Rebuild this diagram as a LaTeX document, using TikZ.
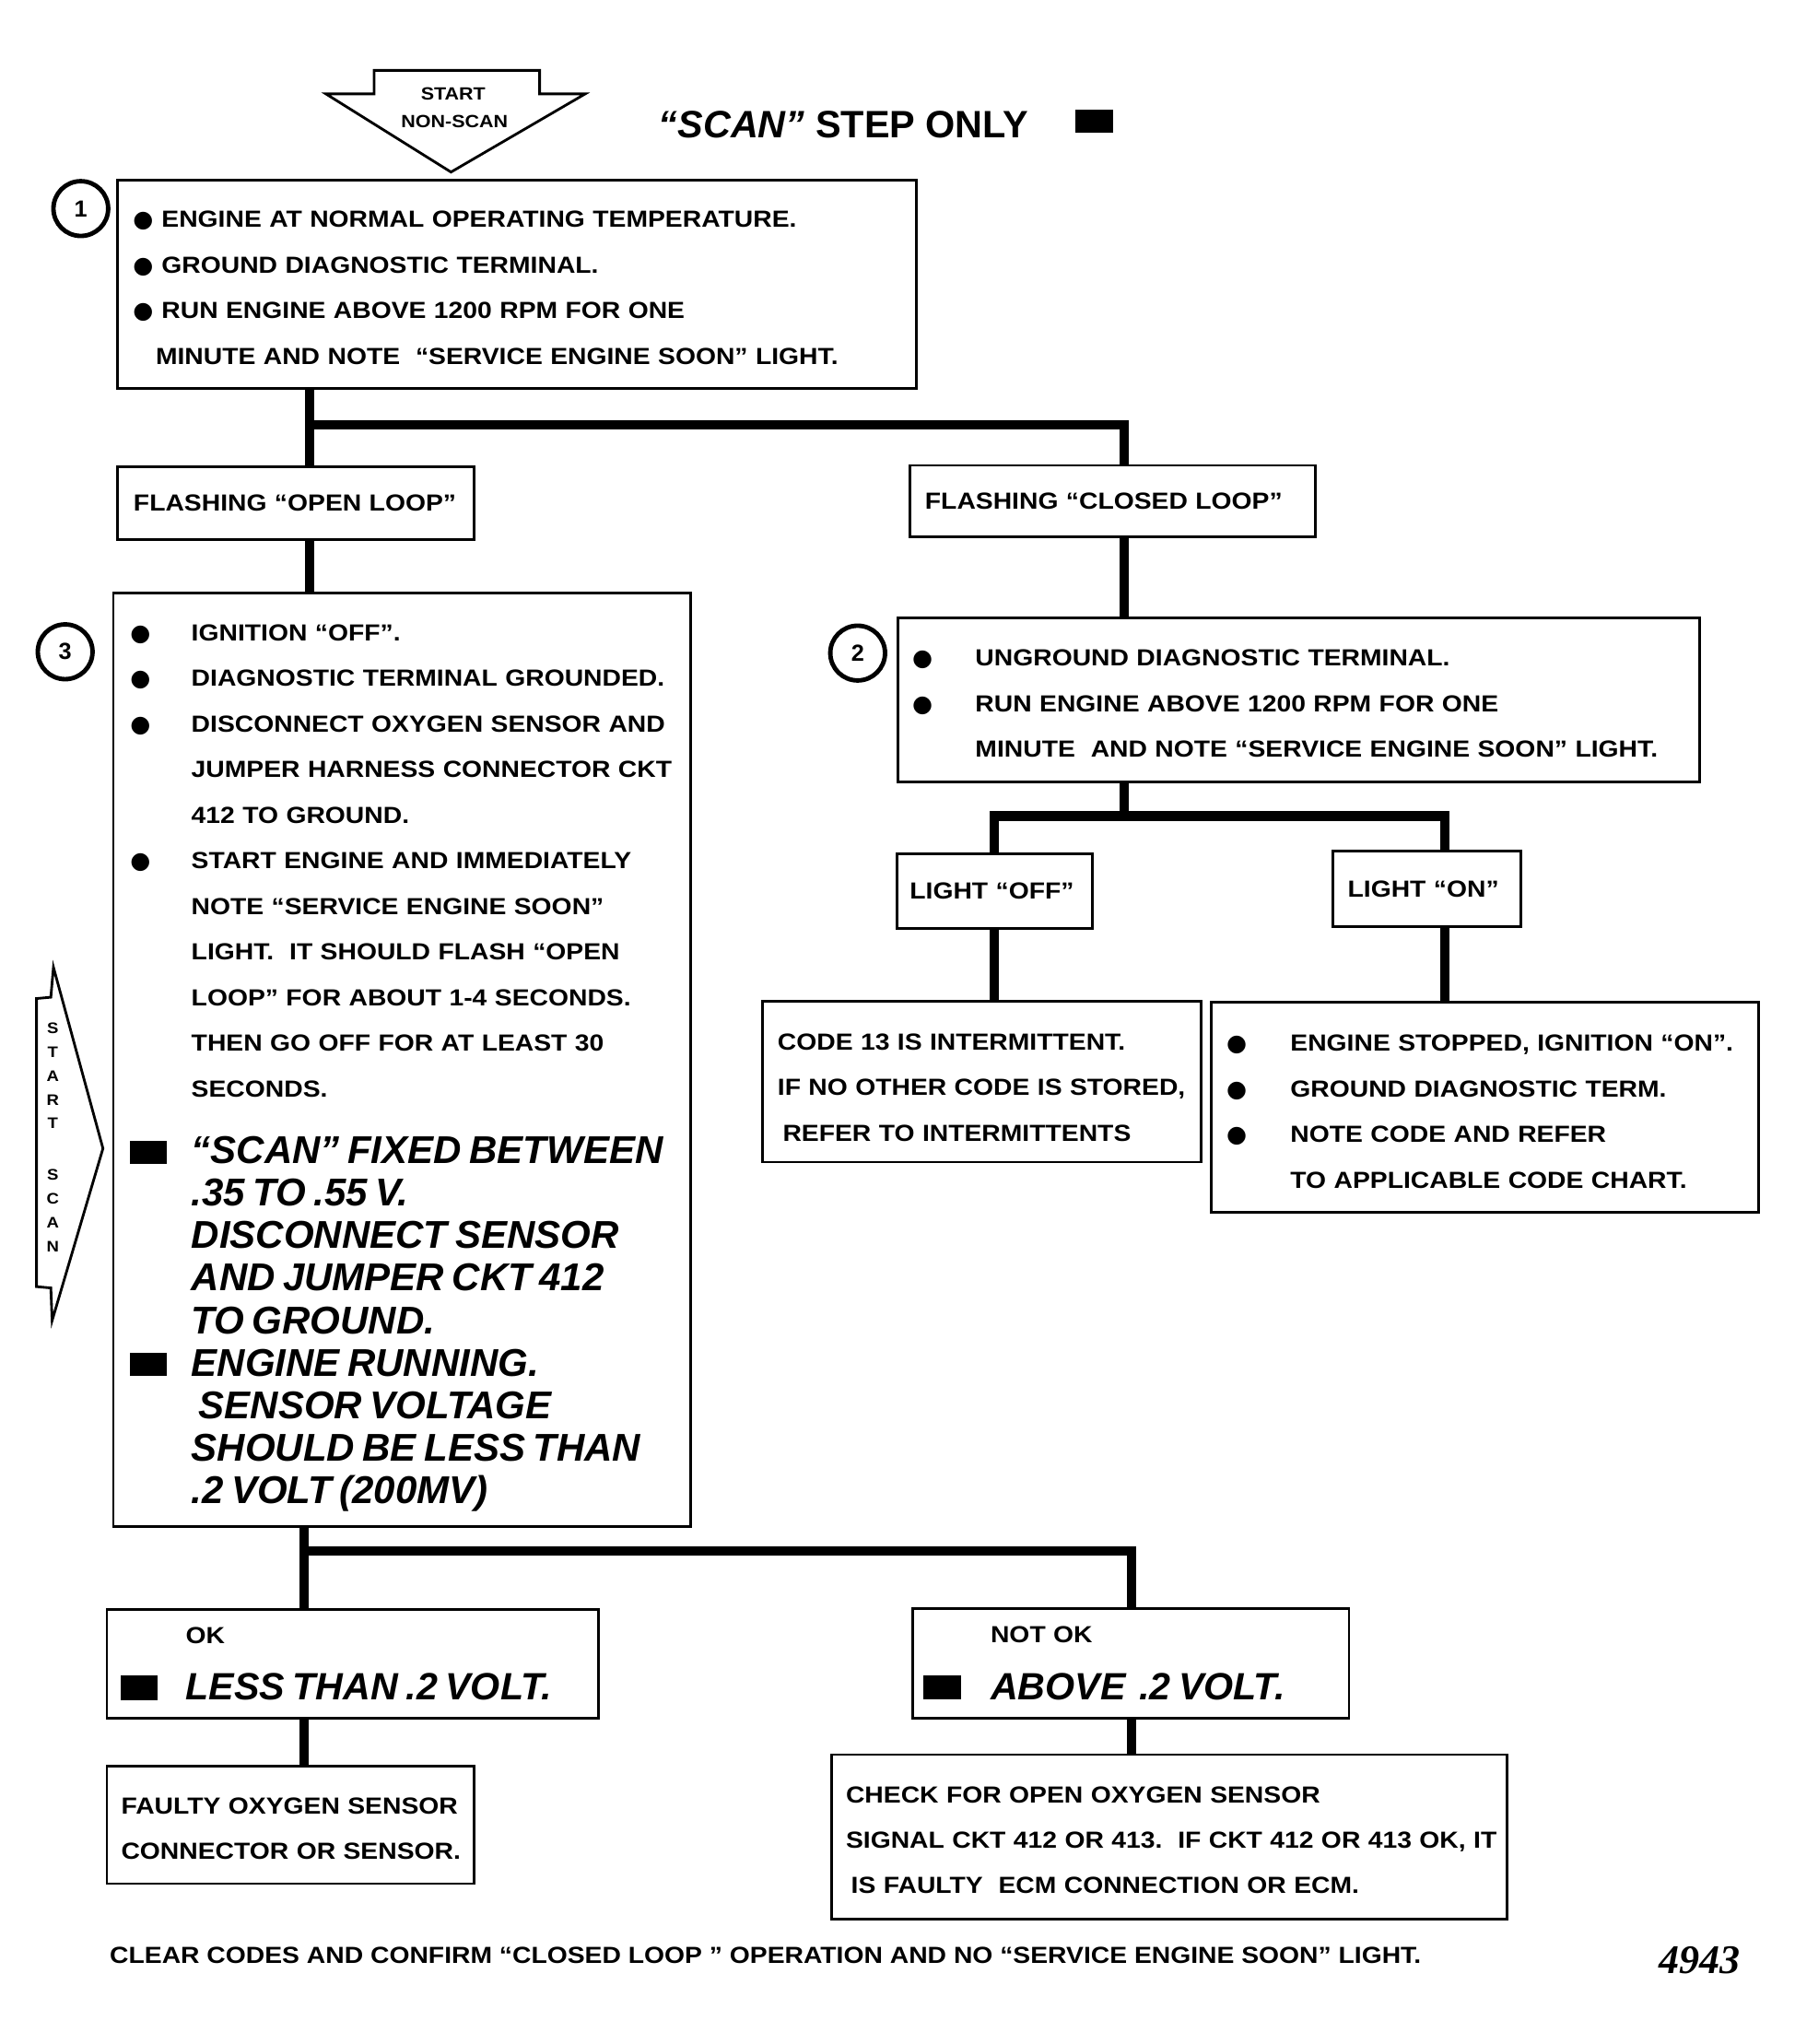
\documentclass[tikz,border=0pt]{standalone}
\usepackage{fontspec}
\setmainfont{Liberation Sans}[FakeStretch=1.12]
\newfontfamily\plainsans{Liberation Sans}
\newfontfamily\dejavu{DejaVu Sans}
\newfontfamily\serifnum{Liberation Serif}
\newcommand\sm{\fontsize{12.5}{24.5}\selectfont\bfseries}
\newcommand\bul[1]{\makebox[#1][l]{\dejavu\fontsize{12.5}{12}\selectfont ●}}
\newcommand\sqr[3]{\makebox[#1][l]{\rule{#2}{#3}}}
\newcommand\bigit{\plainsans\bfseries\itshape\fontsize{20.8}{22.8}\selectfont}
\newcommand\okit{\plainsans\bfseries\itshape\fontsize{20.4}{30.5}\selectfont}
\newcommand\tp[1]{\rule{0pt}{#1}}
\begin{document}
\begin{tikzpicture}[x=0.7pt,y=-0.7pt,
 box/.style={draw, line width=1.4pt, anchor=north west, inner ysep=0pt, outer sep=0pt, align=left, font=\sm},
 conn/.style={line width=5pt, line cap=butt},
 bar/.style={line width=5pt, line cap=rect},
 circ/.style={circle, draw, line width=2.4pt, inner sep=0pt, minimum size=29.4pt, font=\plainsans\bfseries\fontsize{12.5}{12}\selectfont},
 lbl/.style={inner sep=0pt, anchor=base west},
 outline/.style={line width=1.4pt, line join=miter}]
\useasboundingbox (0,0) rectangle (1377,1568);

% title and start arrow
\draw[outline] (287,54) -- (414,54) -- (414,72) -- (449,72) -- (346,132) -- (250,72) -- (287,72) -- cycle;
\node[font=\fontsize{9.5}{9}\selectfont\bfseries, inner sep=0pt, anchor=base] (start) at (347.7,76.6) {START};
\node[font=\fontsize{9.5}{9}\selectfont\bfseries, inner sep=0pt, anchor=base] (nonscan) at (348.7,97.8) {NON-SCAN};
\node[lbl, font=\plainsans\bfseries\fontsize{20.5}{20.5}\selectfont] (title) at (505,105.7) {{\itshape “SCAN”} STEP ONLY};
\fill (825,83.8) rectangle (854,101.6);

% box 1
\node[box, minimum width=429.1pt, minimum height=112pt, text width=412.3pt, inner xsep=8.4pt] (box1) at (90,138) {%
\mbox{\tp{12.6pt}\bul{15.4pt}ENGINE AT NORMAL OPERATING TEMPERATURE.}\\
\mbox{\bul{15.4pt}GROUND DIAGNOSTIC TERMINAL.}\\
\mbox{\bul{15.4pt}RUN ENGINE ABOVE 1200 RPM FOR ONE}\\
\mbox{\hspace{12.25pt}MINUTE AND NOTE \ “SERVICE ENGINE SOON” LIGHT.}};
\node[circ] (c1) at (62,160) {1};

\node[box, minimum width=191.8pt, minimum height=39.2pt, text width=174.3pt, inner xsep=8.75pt] (open) at (90,358) {\mbox{FLASHING “OPEN LOOP”}};
\node[box, minimum width=217.7pt, minimum height=38.5pt, text width=201.3pt, inner xsep=8.2pt] (closed) at (698,357) {\mbox{FLASHING “CLOSED LOOP”}};

% box 3
\node[box, minimum width=310.1pt, minimum height=501.2pt, text width=291.9pt, inner xsep=9.1pt] (box3) at (87,455) {%
\mbox{\tp{17.4pt}\bul{32.8pt}IGNITION “OFF”.}\\
\mbox{\bul{32.8pt}DIAGNOSTIC TERMINAL GROUNDED.}\\
\mbox{\bul{32.8pt}DISCONNECT OXYGEN SENSOR AND}\\
\mbox{\hspace{32.8pt}JUMPER HARNESS CONNECTOR CKT}\\
\mbox{\hspace{32.8pt}412 TO GROUND.}\\
\mbox{\bul{32.8pt}START ENGINE AND IMMEDIATELY}\\
\mbox{\hspace{32.8pt}NOTE “SERVICE ENGINE SOON”}\\
\mbox{\hspace{32.8pt}LIGHT.\ \ IT SHOULD FLASH “OPEN}\\
\mbox{\hspace{32.8pt}LOOP” FOR ABOUT 1-4 SECONDS.}\\
\mbox{\hspace{32.8pt}THEN GO OFF FOR AT LEAST 30}\\
\mbox{\hspace{32.8pt}SECONDS.}\par
\vspace{13.1pt}
{\bigit
\mbox{\sqr{32.8pt}{19.7pt}{12.3pt}“SCAN” FIXED BETWEEN}\\
\mbox{\hspace{32.8pt}.35 TO .55 V.}\\
\mbox{\hspace{32.8pt}DISCONNECT SENSOR}\\
\mbox{\hspace{32.8pt}AND JUMPER CKT 412}\\
\mbox{\hspace{32.8pt}TO GROUND.}\\
\mbox{\sqr{32.8pt}{19.7pt}{12.3pt}ENGINE RUNNING.}\\
\mbox{\hspace{32.8pt}\hspace{4pt}SENSOR VOLTAGE}\\
\mbox{\hspace{32.8pt}SHOULD BE LESS THAN}\\
\mbox{\hspace{32.8pt}.2 VOLT (200MV)}\par}};
\node[circ] (c3) at (50,500) {3};

% start scan arrow
\draw[outline] (41,742) -- (79,881) -- (40,1013) -- (39,988) -- (28,987) -- (28,766) -- (39,765) -- cycle;
\node[font=\fontsize{8.2}{12.8}\selectfont\bfseries, align=center, inner sep=0pt] (startscan) at (40.5,872.4) {S\\T\\A\\R\\T\\[14.7pt]S\\C\\A\\N};

% box 2
\node[box, minimum width=430.5pt, minimum height=88.2pt, text width=415.1pt, inner xsep=7.7pt] (box2) at (689,474) {%
\mbox{\tp{12.6pt}\bul{33.8pt}UNGROUND DIAGNOSTIC TERMINAL.}\\
\mbox{\bul{33.8pt}RUN ENGINE ABOVE 1200 RPM FOR ONE}\\
\mbox{\hspace{33.8pt}MINUTE \ AND NOTE “SERVICE ENGINE SOON” LIGHT.}};
\node[circ] (c2) at (658,501) {2};

\node[box, minimum width=105pt, minimum height=39.9pt, text width=91pt, inner xsep=7pt] (loff) at (688,655) {\mbox{LIGHT “OFF”}};
\node[box, minimum width=101.2pt, minimum height=40.6pt, text width=85.1pt, inner xsep=8.05pt] (lon) at (1022.5,653) {\mbox{LIGHT “ON”}};

\node[box, minimum width=235.6pt, minimum height=86.45pt, text width=219.4pt, inner xsep=8.1pt] (code) at (585,768) {%
\mbox{\tp{15pt}CODE 13 IS INTERMITTENT.}\\
\mbox{IF NO OTHER CODE IS STORED,}\\
\mbox{\hspace{2.8pt}REFER TO INTERMITTENTS}};

\node[box, minimum width=294pt, minimum height=112.7pt, text width=277.2pt, inner xsep=8.4pt] (note) at (929,769) {%
\mbox{\tp{13.2pt}\bul{34.3pt}ENGINE STOPPED, IGNITION “ON”.}\\
\mbox{\bul{34.3pt}GROUND DIAGNOSTIC TERM.}\\
\mbox{\bul{34.3pt}NOTE CODE AND REFER}\\
\mbox{\hspace{34.3pt}TO APPLICABLE CODE CHART.}};

% OK / NOT OK
\node[box, minimum width=263.9pt, minimum height=58.45pt, text width=248.7pt, inner xsep=7.6pt] (ok) at (82,1234.5) {%
\mbox{\hspace{34.8pt}OK}\par
{\okit\mbox{\sqr{34.8pt}{19.8pt}{13pt}LESS THAN .2 VOLT.}\par}};
\node[box, minimum width=234.5pt, minimum height=58.8pt, text width=223.3pt, inner xsep=5.6pt] (nok) at (700,1234) {%
\mbox{\hspace{36.4pt}NOT OK}\par
{\okit\mbox{\sqr{36.4pt}{20.3pt}{13pt}ABOVE\hspace{7.3pt}.2 VOLT.}\par}};

\node[box, minimum width=197.4pt, minimum height=63pt, text width=182pt, inner xsep=7.7pt] (faulty) at (82,1355) {%
\mbox{\tp{12.5pt}FAULTY OXYGEN SENSOR}\\
\mbox{CONNECTOR OR SENSOR.}};
\node[box, minimum width=362.6pt, minimum height=88.2pt, text width=347.2pt, inner xsep=7.7pt, font=\fontsize{12.5}{24.2}\selectfont\bfseries] (check) at (638,1346) {%
\mbox{\tp{12.6pt}CHECK FOR OPEN OXYGEN SENSOR}\\
\mbox{SIGNAL CKT 412 OR 413.\ \ IF CKT 412 OR 413 OK, IT}\\
\mbox{\hspace{2.8pt}IS FAULTY \ ECM CONNECTION OR ECM.}};

\node[lbl, font=\sm] (clear) at (84,1506.4) {CLEAR CODES AND CONFIRM “CLOSED LOOP ” OPERATION AND NO “SERVICE ENGINE SOON” LIGHT.};
\node[lbl, font=\serifnum\bfseries\itshape\fontsize{21.8}{21.8}\selectfont] (num) at (1272.4,1513.9) {4943};

% connectors
\coordinate (j1) at (237.3,326);
\coordinate (j1r) at (862.5,326);
\coordinate (j2) at (862.5,626);
\coordinate (j2l) at (763,626);
\coordinate (j2r) at (1108.5,626);
\coordinate (j3l) at (233.5,1189.5);
\coordinate (j3r) at (868,1189.5);
\draw[conn] (box1.south -| j1) -- (open.north -| j1);
\draw[bar] (j1) -- (j1r);
\draw[conn] (j1r) -- (closed.north -| j1r);
\draw[conn] (open.south -| j1) -- (box3.north -| j1);
\draw[conn] (closed.south -| j1r) -- (box2.north -| j1r);
\draw[conn] (box2.south -| j2) -- (j2);
\draw[bar] (j2l) -- (j2r);
\draw[conn] (j2l) -- (loff.north -| j2l);
\draw[conn] (j2r) -- (lon.north -| j2r);
\draw[conn] (loff.south -| j2l) -- (code.north -| j2l);
\draw[conn] (lon.south -| j2r) -- (note.north -| j2r);
\draw[conn] (box3.south -| j3l) -- (ok.north -| j3l);
\draw[bar] (j3l) -- (j3r);
\draw[conn] (j3r) -- (nok.north -| j3r);
\draw[conn] (ok.south -| j3l) -- (faulty.north -| j3l);
\draw[conn] (nok.south -| j3r) -- (check.north -| j3r);
\end{tikzpicture}
\end{document}
